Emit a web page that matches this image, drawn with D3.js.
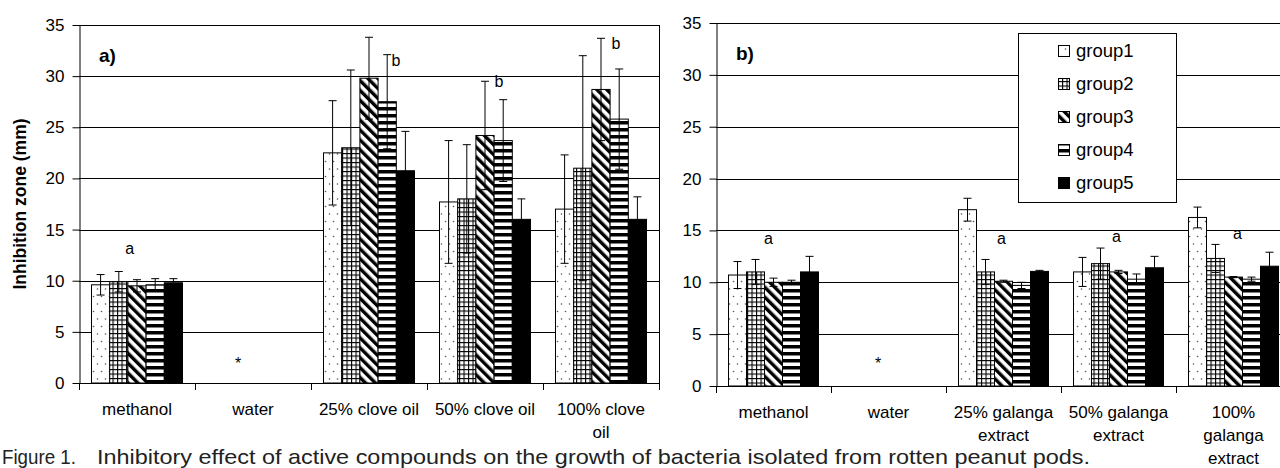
<!DOCTYPE html>
<html>
<head>
<meta charset="utf-8">
<script src="https://cdn.jsdelivr.net/npm/d3@7"></script>
<style>
  body { margin: 0; background: #fff; }
  svg { display: block; font-family: "Liberation Sans", Arial, sans-serif; }
</style>
</head>
<body>
<svg id="chart" width="1280" height="468"></svg>
<script>
const groups = ["group1", "group2", "group3", "group4", "group5"];

const catsA = ["methanol", "water", "25% clove oil", "50% clove oil", "100% clove oil"];
const tickLinesA = [["methanol"], ["water"], ["25% clove oil"], ["50% clove oil"], ["100% clove", "oil"]];

const catsB = ["methanol", "water", "25% galanga extract", "50% galanga extract", "100% galanga extract"];
const tickLinesB = [["methanol"], ["water"], ["25% galanga", "extract"], ["50% galanga", "extract"], ["100%", "galanga", "extract"]];

const yTicks = [0, 5, 10, 15, 20, 25, 30, 35];

// means, one row per category, one column per group
const meanA = [
  [9.6, 9.9, 9.5, 9.6, 9.8],
  [0, 0, 0, 0, 0],
  [22.5, 23.0, 29.8, 27.5, 20.75],
  [17.7, 18.0, 24.2, 23.7, 16.0],
  [17.0, 21.0, 28.7, 25.8, 16.0]
];
const errA = [
  [1.0, 1.0, 0.6, 0.6, 0.4],
  [0, 0, 0, 0, 0],
  [5.1, 7.6, 4.0, 4.6, 3.85],
  [6.0, 5.3, 5.3, 4.0, 2.0],
  [5.3, 11.0, 5.0, 4.9, 2.2]
];

const meanB = [
  [10.7, 11.0, 10.0, 10.0, 11.0],
  [0, 0, 0, 0, 0],
  [17.0, 11.0, 10.1, 9.7, 11.05],
  [11.0, 11.8, 11.0, 10.3, 11.4],
  [16.25, 12.3, 10.5, 10.3, 11.55]
];
const errB = [
  [1.3, 1.2, 0.4, 0.2, 1.5],
  [0, 0, 0, 0, 0],
  [1.1, 1.2, 0.1, 0.3, 0.1],
  [1.4, 1.5, 0.15, 0.5, 1.1],
  [1.0, 1.35, 0.05, 0.2, 1.35]
];

// significance marks: category, bar slot (in bar units), text, value level
const marksA = [
  { cat: 0, slot: 1.6, text: "a", level: 12.6 },
  { cat: 1, slot: 1.18, text: "*", level: 1.4 },
  { cat: 2, slot: 3.48, text: "b", level: 31.0 },
  { cat: 3, slot: 2.77, text: "b", level: 28.9 },
  { cat: 4, slot: 2.82, text: "b", level: 32.65 }
];
const marksB = [
  { cat: 0, slot: 1.72, text: "a", level: 13.7 },
  { cat: 1, slot: 1.42, text: "*", level: 1.64 },
  { cat: 2, slot: 1.89, text: "a", level: 13.7 },
  { cat: 3, slot: 1.89, text: "a", level: 13.9 },
  { cat: 4, slot: 2.22, text: "a", level: 14.2 }
];

const svg = d3.select("#chart");
const defs = svg.append("defs");

// fill patterns for the five groups
function makePatterns() {
  const dots = defs.append("pattern").attr("id", "p0")
    .attr("patternUnits", "userSpaceOnUse").attr("width", 8).attr("height", 15);
  dots.append("rect").attr("width", 8).attr("height", 15).attr("fill", "#fff");
  dots.append("circle").attr("cx", 1.5).attr("cy", 4).attr("r", 0.8).attr("fill", "#555");
  dots.append("circle").attr("cx", 5.5).attr("cy", 11.5).attr("r", 0.8).attr("fill", "#555");

  const grid = defs.append("pattern").attr("id", "p1")
    .attr("patternUnits", "userSpaceOnUse").attr("width", 4.5).attr("height", 4.5);
  grid.append("rect").attr("width", 4.5).attr("height", 4.5).attr("fill", "#fff");
  grid.append("rect").attr("width", 1.1).attr("height", 4.5).attr("fill", "#000");
  grid.append("rect").attr("width", 4.5).attr("height", 1.1).attr("fill", "#000");

  const diag = defs.append("pattern").attr("id", "p2")
    .attr("patternUnits", "userSpaceOnUse").attr("width", 7).attr("height", 7)
    .attr("patternTransform", "rotate(-45)");
  diag.append("rect").attr("width", 7).attr("height", 7).attr("fill", "#fff");
  diag.append("rect").attr("width", 3.4).attr("height", 7).attr("fill", "#000");

  const horiz = defs.append("pattern").attr("id", "p3")
    .attr("patternUnits", "userSpaceOnUse").attr("width", 7).attr("height", 7);
  horiz.append("rect").attr("width", 7).attr("height", 7).attr("fill", "#fff");
  horiz.append("rect").attr("y", 2).attr("width", 7).attr("height", 3.5).attr("fill", "#000");
}
makePatterns();
const fills = ["url(#p0)", "url(#p1)", "url(#p2)", "url(#p3)", "#000"];

function drawPanel(p) {
  const g = svg.append("g");

  const x0 = d3.scaleBand().domain(d3.range(p.cats.length)).range([p.left, p.right]);
  const x1 = d3.scaleBand().domain(groups).range([12.5, x0.bandwidth() - 12.5]);
  const y = d3.scaleLinear().domain([0, 35]).range([p.bottom, p.top]);
  const slotX = (c, s) => x0(c) + 12.5 + x1.step() * (s + 0.5);

  // gridlines
  g.selectAll("line.grid").data(yTicks.filter(t => t > 0)).enter().append("line")
    .attr("x1", p.left).attr("x2", p.right)
    .attr("y1", d => Math.round(y(d)) + 0.5).attr("y2", d => Math.round(y(d)) + 0.5)
    .attr("stroke", "#000").attr("stroke-width", 1);
  // right border
  g.append("line").attr("x1", p.right + 0.5).attr("x2", p.right + 0.5)
    .attr("y1", y(35)).attr("y2", y(0)).attr("stroke", "#000");

  // y axis
  const ya = g.append("g").attr("transform", `translate(${p.left + 0.5},0)`)
    .call(d3.axisLeft(y).tickValues(yTicks).tickSize(7).tickSizeOuter(0).tickPadding(8));
  ya.select(".domain").attr("stroke", "#000");
  ya.selectAll("text").attr("font-size", 17).attr("fill", "#000")
    .attr("font-family", "Liberation Sans, Arial, sans-serif");

  // x axis line and category ticks
  g.append("line").attr("x1", p.left).attr("x2", p.right)
    .attr("y1", Math.round(y(0)) + 0.5).attr("y2", Math.round(y(0)) + 0.5).attr("stroke", "#000");
  g.selectAll("line.xt").data(d3.range(p.cats.length + 1)).enter().append("line")
    .attr("x1", d => Math.round(p.left + d * x0.step()) + 0.5)
    .attr("x2", d => Math.round(p.left + d * x0.step()) + 0.5)
    .attr("y1", y(0)).attr("y2", y(0) + 7).attr("stroke", "#000");

  p.lines.forEach((lines, i) => {
    const t = g.append("text").attr("x", x0(i) + x0.bandwidth() / 2)
      .attr("y", y(0) + 32).attr("text-anchor", "middle")
      .attr("font-size", 17).attr("fill", "#000");
    lines.forEach((ln, k) => {
      t.append("tspan").attr("x", x0(i) + x0.bandwidth() / 2).attr("dy", k === 0 ? 0 : 23).text(ln);
    });
  });

  // bars
  const cells = [];
  p.mean.forEach((row, c) => row.forEach((v, k) => cells.push({ c, k, v, e: p.err[c][k] })));

  g.selectAll("rect.bar").data(cells).enter().append("rect")
    .attr("x", d => x0(d.c) + x1(groups[d.k]))
    .attr("y", d => y(d.v))
    .attr("width", x1.bandwidth())
    .attr("height", d => y(0) - y(d.v))
    .attr("fill", d => fills[d.k])
    .attr("stroke", d => d.v > 0 ? "#000" : "#ccc")
    .attr("stroke-width", 1);

  // error bars
  const eb = g.selectAll("g.err").data(cells.filter(d => d.e > 0)).enter().append("g");
  const cx = d => x0(d.c) + x1(groups[d.k]) + x1.bandwidth() / 2;
  eb.append("line").attr("x1", cx).attr("x2", cx)
    .attr("y1", d => y(d.v - d.e)).attr("y2", d => y(d.v + d.e)).attr("stroke", "#000");
  eb.append("line").attr("x1", d => cx(d) - 4).attr("x2", d => cx(d) + 4)
    .attr("y1", d => y(d.v + d.e)).attr("y2", d => y(d.v + d.e)).attr("stroke", "#000");
  eb.append("line").attr("x1", d => cx(d) - 4).attr("x2", d => cx(d) + 4)
    .attr("y1", d => y(d.v - d.e)).attr("y2", d => y(d.v - d.e)).attr("stroke", "#000");

  // significance marks
  g.selectAll("text.mark").data(p.marks).enter().append("text")
    .attr("x", d => slotX(d.cat, d.slot)).attr("y", d => y(d.level))
    .attr("text-anchor", "middle").attr("font-size", 16).attr("fill", "#000")
    .text(d => d.text);

  // panel tag
  g.append("text").attr("x", p.left + 20).attr("y", p.top + 37)
    .attr("font-size", 19).attr("font-weight", "bold").text(p.tag);

  return { x0, x1, y };
}

drawPanel({ cats: catsA, lines: tickLinesA, mean: meanA, err: errA, marks: marksA,
  left: 79, right: 659, top: 25, bottom: 383, tag: "a)" });
drawPanel({ cats: catsB, lines: tickLinesB, mean: meanB, err: errB, marks: marksB,
  left: 716, right: 1291, top: 23, bottom: 386, tag: "b)" });

// y axis title
svg.append("text").attr("transform", "translate(26,204) rotate(-90)")
  .attr("text-anchor", "middle").attr("font-size", 17.5).attr("font-weight", "bold")
  .text("Inhibition zone (mm)");

// legend
const legend = svg.append("g");
legend.append("rect").attr("x", 1018.5).attr("y", 33.5).attr("width", 158).attr("height", 169)
  .attr("fill", "#fff").attr("stroke", "#000");
groups.forEach((name, i) => {
  const cy = 51 + i * 33;
  legend.append("rect").attr("x", 1058.5).attr("y", cy - 5.5).attr("width", 11).attr("height", 11)
    .attr("fill", fills[i]).attr("stroke", "#000");
  legend.append("text").attr("x", 1076).attr("y", cy).attr("dy", "0.35em")
    .attr("font-size", 18.5).attr("fill", "#000").text(name);
});

// caption
svg.append("text").attr("x", 2).attr("y", 464).attr("font-size", 21).attr("fill", "#222")
  .attr("textLength", 74).attr("lengthAdjust", "spacingAndGlyphs")
  .text("Figure 1.");
svg.append("text").attr("x", 97).attr("y", 464).attr("font-size", 21).attr("fill", "#222")
  .attr("textLength", 993).attr("lengthAdjust", "spacingAndGlyphs")
  .text("Inhibitory effect of active compounds on the growth of bacteria isolated from rotten peanut pods.");
</script>
</body>
</html>
